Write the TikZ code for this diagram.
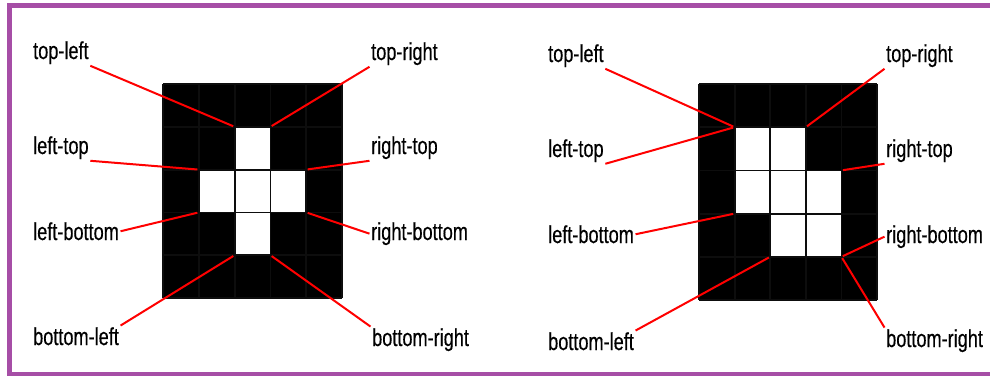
\documentclass[tikz,border=0pt]{standalone}
\usepackage{fontspec}
\setmainfont{Liberation Sans}[FakeStretch=0.74, FakeBold=0.4]
\definecolor{framepurple}{RGB}{166,78,166}

\begin{document}
\begin{tikzpicture}[
  x=1pt, y=-1pt,
  lbl/.style={anchor=base west, inner sep=1.5pt, font=\fontsize{24.5}{28}\selectfont},
  lead/.style={draw=red, line width=2pt, shorten >=1.5pt},
  gridline/.style={draw=black!95!white, line width=1.8pt},
  frame/.style={draw=framepurple, line width=4.5pt}
]
\useasboundingbox (0,0) rectangle (990,378);
\draw[frame] (990,5.5) -- (9.5,5.5) -- (9.5,374) -- (990,374);

% left panel: cross
\begin{scope}[shift={(163,84)}, x=35.8pt, y=-42.8pt]
  \fill[black] (0,0) rectangle (5,5);
  \foreach \c/\r in {2/1,1/2,2/2,3/2,2/3}
    \fill[white] (\c,\r) rectangle ++(1,1);
  \foreach \i in {0,...,5} {
    \draw[gridline] (\i,0) -- (\i,5);
    \draw[gridline] (0,\i) -- (5,\i);
  }
  \coordinate (cTLa) at (2,1);
  \coordinate (cTRa) at (3,1);
  \coordinate (cLTa) at (1,2);
  \coordinate (cRTa) at (4,2);
  \coordinate (cLBa) at (1,3);
  \coordinate (cRBa) at (4,3);
  \coordinate (cBLa) at (2,4);
  \coordinate (cBRa) at (3,4);
\end{scope}

\node[lbl] (topleftA) at (31.5,59) {top-left};
\node[lbl] (lefttopA) at (31.5,154) {left-top};
\node[lbl] (leftbottomA) at (31.5,240) {left-bottom};
\node[lbl] (bottomleftA) at (31.5,345) {bottom-left};
\node[lbl] (toprightA) at (369.5,60) {top-right};
\node[lbl] (righttopA) at (369.5,154) {right-top};
\node[lbl] (rightbottomA) at (369.5,240) {right-bottom};
\node[lbl] (bottomrightA) at (370.5,346) {bottom-right};

\draw[lead] (topleftA.south east) -- (cTLa);
\draw[lead] (toprightA.south west) -- (cTRa);
\draw[lead] (lefttopA.south east) -- (cLTa);
\draw[lead] (righttopA.south west) -- (cRTa);
\draw[lead] (leftbottomA.east) -- (cLBa);
\draw[lead] (rightbottomA.west) -- (cRBa);
\draw[lead] (bottomleftA.north east) -- (cBLa);
\draw[lead] (bottomrightA.north west) -- (cBRa);

% right panel: corner shape
\begin{scope}[shift={(699,84)}, x=35.6pt, y=-43.2pt]
  \fill[black] (0,0) rectangle (5,5);
  \foreach \c/\r in {1/1,2/1,1/2,2/2,3/2,2/3,3/3}
    \fill[white] (\c,\r) rectangle ++(1,1);
  \foreach \i in {0,...,5} {
    \draw[gridline] (\i,0) -- (\i,5);
    \draw[gridline] (0,\i) -- (5,\i);
  }
  \coordinate (cTLb) at (1,1);
  \coordinate (cTRb) at (3,1);
  \coordinate (cRTb) at (4,2);
  \coordinate (cLBb) at (1,3);
  \coordinate (cBLb) at (2,4);
  \coordinate (cBRb) at (4,4);
\end{scope}

\node[lbl] (topleftB) at (546.5,62) {top-left};
\node[lbl] (lefttopB) at (546.5,157) {left-top};
\node[lbl] (leftbottomB) at (546.5,243) {left-bottom};
\node[lbl] (bottomleftB) at (546.5,350) {bottom-left};
\node[lbl] (toprightB) at (884.5,62) {top-right};
\node[lbl] (righttopB) at (884.5,157) {right-top};
\node[lbl] (rightbottomB) at (884.5,243) {right-bottom};
\node[lbl] (bottomrightB) at (884.5,347) {bottom-right};

\draw[lead] (topleftB.south east) -- (cTLb);
\draw[lead] (lefttopB.south east) -- (cTLb);
\draw[lead] (toprightB.south west) -- (cTRb);
\draw[lead] (righttopB.south west) -- (cRTb);
\draw[lead] (leftbottomB.east) -- (cLBb);
\draw[lead] (bottomleftB.north east) -- (cBLb);
\draw[lead] (rightbottomB.west) -- (cBRb);
\draw[lead] (bottomrightB.north west) -- (cBRb);
\end{tikzpicture}
\end{document}
